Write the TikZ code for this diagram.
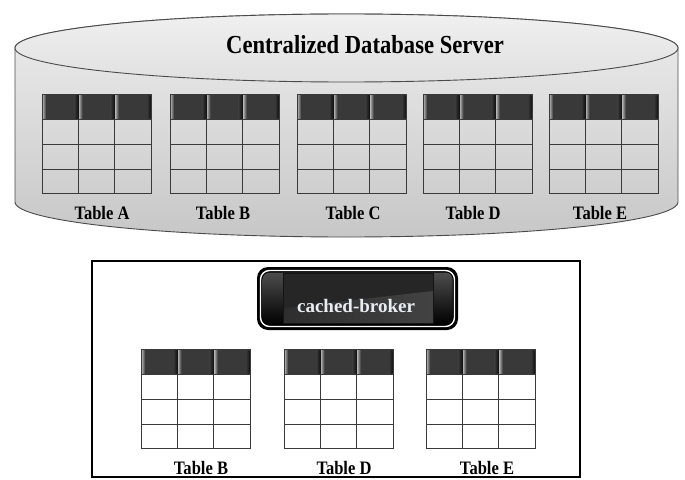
\documentclass[tikz,border=0pt]{standalone}
\usepackage{fontspec}
\setmainfont{Liberation Serif}
\newfontfamily\narrowserif[FakeStretch=0.87]{Liberation Serif}
\definecolor{hdr}{HTML}{393939}
\definecolor{hdrlite}{HTML}{B0B0B0}
\definecolor{hdrdark}{HTML}{151515}
\definecolor{gridline}{HTML}{3A3A3A}
\definecolor{drumline}{HTML}{4A4A4A}
\definecolor{brokertext}{HTML}{E8EDF3}

% one table: header row of three bevelled cells over three body rows
\newcommand\dbgrid[3]{%
  \begin{scope}[shift={(#1,#2)}]
    \fill[#3] (0,25) rectangle (109,99.4);
    \foreach \i [evaluate=\i as \xa using \i*36.333] in {0,1,2}{
      \fill[hdr] (\xa,0) rectangle ++(36.333,25);
      \shade[left color=hdrlite,right color=hdr] (\xa+0.5,1.2) rectangle ++(3.6,22.6);
      \shade[left color=hdr,right color=hdrdark] (\xa+32.2,1.2) rectangle ++(3.6,22.6);
      \draw[hdrdark,line width=0.7] (\xa,0) rectangle ++(36.333,25);
    }
    \draw[gridline,line width=0.8] (0,0) rectangle (109,99.4)
      (0,25) -- (109,25) (0,50) -- (109,50) (0,74.7) -- (109,74.7)
      (36.333,25) -- (36.333,99.4) (72.667,25) -- (72.667,99.4);
  \end{scope}}

\tikzset{
  lbl/.style={font=\narrowserif\bfseries\fontsize{19}{22}\selectfont,inner sep=0pt},
  titlelbl/.style={font=\narrowserif\bfseries\fontsize{26}{30}\selectfont,inner sep=0pt},
  brokerlbl/.style={font=\bfseries\fontsize{19}{22}\selectfont,text=brokertext,inner sep=0pt},
}

\begin{document}
\begin{tikzpicture}[x=1pt,y=-1pt]
\useasboundingbox (0,0) rectangle (685,479);

% server drum: body, then lid
\shade[top color=black!7,bottom color=black!22,draw=drumline,line width=0.9]
  (15,48) -- (15,202)
  arc[start angle=180,end angle=360,x radius=331.5pt,y radius=35pt]
  -- (678,48)
  arc[start angle=0,end angle=180,x radius=331.5pt,y radius=34pt] -- cycle;
\shade[top color=black!6,bottom color=black!12,draw=drumline,line width=0.9]
  (346.5,48) ellipse[x radius=331.5pt,y radius=34pt];

\node[titlelbl] (title) at (365,45) {Centralized Database Server};

% tables stored on the server
\dbgrid{42}{94.3}{black!0!white,opacity=0}
\dbgrid{170}{94.3}{black!0!white,opacity=0}
\dbgrid{297}{94.3}{black!0!white,opacity=0}
\dbgrid{423}{94.3}{black!0!white,opacity=0}
\dbgrid{549}{94.3}{black!0!white,opacity=0}

\node[lbl] (srvA) at (102,213) {Table A};
\node[lbl] (srvB) at (223,213) {Table B};
\node[lbl] (srvC) at (353,213) {Table C};
\node[lbl] (srvD) at (473,213) {Table D};
\node[lbl] (srvE) at (600,213) {Table E};

% cache frame
\draw[black,line width=1.5] (92,261) rectangle (580,477);

% cached-broker badge
\fill[black,rounded corners=11pt] (257,267) rectangle (458,330);
\draw[white,line width=1.4,rounded corners=9pt] (260.5,270.5) rectangle (454.5,326.5);
\shade[top color=black!70,bottom color=black,rounded corners=7pt] (262.5,272.5) rectangle (452.5,324.5);
\fill[black!85] (283,273) rectangle (433,323);
\shade[left color=black!82,right color=black!74] (283,308) -- (433,291) -- (433,323) -- (283,323) -- cycle;
\draw[black!92,line width=0.6] (283,273) rectangle (433,323);
\node[brokerlbl] (broker) at (356,306) {cached-broker};

% tables held in the cache
\dbgrid{141}{349.3}{white}
\dbgrid{284}{349.3}{white}
\dbgrid{426}{349.3}{white}

\node[lbl] (cacheB) at (201,468) {Table B};
\node[lbl] (cacheD) at (344,468) {Table D};
\node[lbl] (cacheE) at (487,468) {Table E};
\end{tikzpicture}
\end{document}
